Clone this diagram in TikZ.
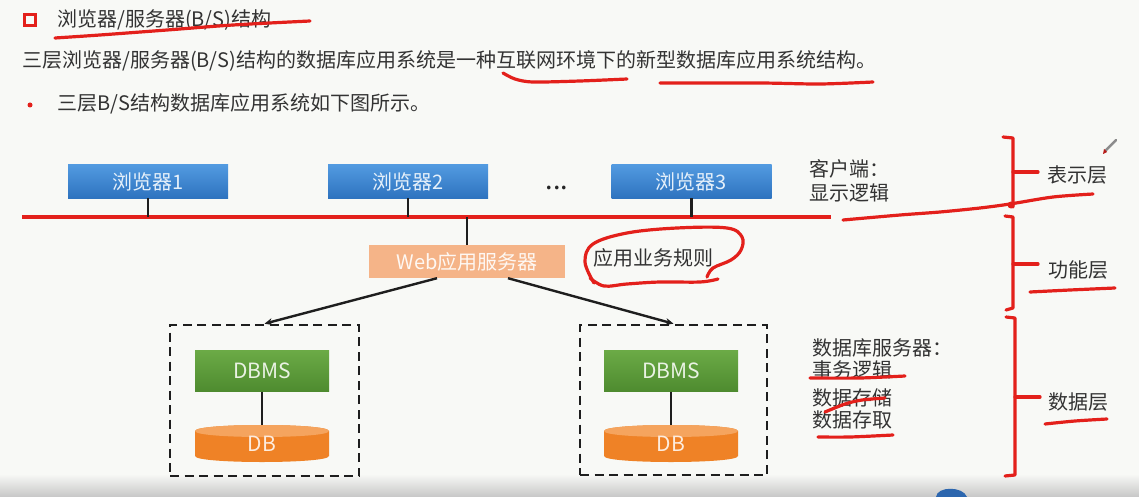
\documentclass[tikz,border=0pt]{standalone}
\usepackage{fontspec}
\setmainfont{Noto Sans CJK SC}
\usetikzlibrary{arrows.meta}

\definecolor{paper}{HTML}{F8F9F6}
\definecolor{ink}{HTML}{333333}
\definecolor{pen}{HTML}{E3201B}
\definecolor{bluetop}{HTML}{529AE0}
\definecolor{bluebot}{HTML}{2E73BF}
\definecolor{webfill}{HTML}{F5B488}
\definecolor{greentop}{HTML}{6BAA46}
\definecolor{greenbot}{HTML}{4E8B2F}
\definecolor{dbbody}{HTML}{EF8226}
\definecolor{dbtop}{HTML}{F5A45E}
\definecolor{wirecol}{HTML}{1E1E1E}
\definecolor{logo}{HTML}{2C66AE}

\tikzset{
  txt/.style={font=\fontsize{20}{24}\selectfont, text=ink, inner sep=0pt, anchor=west},
  boxlabel/.style={font=\fontsize{20}{24}\selectfont, inner sep=0pt},
  browser/.style={boxlabel, minimum width=160pt, minimum height=33pt,
    top color=bluetop, bottom color=bluebot, text=white!85!bluetop},
  websrv/.style={boxlabel, minimum width=196pt, minimum height=33pt,
    fill=webfill, text=white!90!webfill},
  dbms/.style={boxlabel, font=\fontsize{21}{24}\selectfont, minimum width=134pt, minimum height=41pt,
    top color=greentop, bottom color=greenbot, text=white!85!greentop},
  dbslot/.style={boxlabel, font=\fontsize{21}{24}\selectfont, minimum width=134pt, minimum height=37pt,
    text=white!85!dbbody},
  group/.style={draw=wirecol, line width=2.6pt, dash pattern=on 9pt off 5.5pt,
    inner sep=0pt},
  wire/.style={draw=wirecol, line width=2.4pt},
  feed/.style={wire, -{Stealth[length=8pt,width=7pt]}},
  bus/.style={draw=pen, line width=3.2pt},
  stroke/.style={draw=pen, line width=3.2pt, line cap=round, line join=round},
}

% cylinder body for a database, centred at x, spanning y 425..462
\newcommand{\dbdrum}[1]{%
  \fill[dbbody] (#1-67,431) -- (#1-67,456)
    .. controls (#1-67,464) and (#1+67,464) .. (#1+67,456) -- (#1+67,431)
    .. controls (#1+67,423) and (#1-67,423) .. cycle;
  \fill[dbtop] (#1-67,431)
    .. controls (#1-67,423) and (#1+67,423) .. (#1+67,431)
    .. controls (#1+67,439) and (#1-67,439) .. cycle;
}

\begin{document}
\begin{tikzpicture}[x=1pt,y=-1pt]
  \useasboundingbox (0,0) rectangle (1139,497);
  \fill[paper] (0,0) rectangle (1139,497);
  \shade[top color=paper, bottom color=black!22] (0,474) rectangle (1139,497);
  \fill[logo] (936,497) .. controls (937,486) and (963,486) .. (967,497) -- cycle;

  % heading and intro lines
  \node[draw=pen, line width=3pt, minimum size=11pt, inner sep=0pt] (sq) at (30,20) {};
  \node[txt] (title) at (57,20) {浏览器/服务器(B/S)结构};
  \node[txt] (intro) at (22,61) {三层浏览器/服务器(B/S)结构的数据库应用系统是一种互联网环境下的新型数据库应用系统结构。};
  \node[circle, fill=pen, minimum size=5pt, inner sep=0pt] (dot) at (30,105) {};
  \node[txt] (note) at (57,104) {三层B/S结构数据库应用系统如下图所示。};

  % browsers and the network line
  \node[browser] (b1) at (148,181.5) {浏览器1};
  \node[browser] (b2) at (408,181.5) {浏览器2};
  \node[browser] (b3) at (691.5,181.5) {浏览器3};
  \node[txt, anchor=center, font=\fontsize{27}{27}\selectfont, text=black!85] (dots) at (557,188) {...};
  \coordinate (busL) at (22,217);
  \coordinate (busR) at (831,217);
  \draw[bus] (busL) -- (busR);
  \foreach \b in {b1,b2,b3} \draw[wire] (\b.south) -- (\b.south |- busL);

  % application server
  \node[websrv] (web) at (467,261.5) {Web应用服务器};
  \draw[wire] (web.north) -- (web.north |- busL);

  % database servers
  \node[group, minimum width=189pt, minimum height=151pt] (gl) at (264.5,400.5) {};
  \node[group, minimum width=187pt, minimum height=150pt] (gr) at (673.5,400) {};
  \node[dbms] (dbms1) at (262,371) {DBMS};
  \node[dbms] (dbms2) at (671,371) {DBMS};
  \dbdrum{262}
  \dbdrum{671}
  \node[dbslot] (db1) at (262,443.5) {\raisebox{-5pt}{DB}};
  \node[dbslot] (db2) at (671,443.5) {\raisebox{-5pt}{DB}};
  \draw[wire] (dbms1) -- (db1);
  \draw[wire] (dbms2) -- (db2);
  \draw[feed] ([xshift=-30pt]web.south) -- (gl.north);
  \draw[feed] ([xshift=41pt]web.south) -- (gr.north);

  % side notes
  \node[txt] (client) at (809,169) {客户端：};
  \node[txt] (show) at (809,193) {显示逻辑};
  \node[txt] (rules) at (593,258) {应用业务规则};
  \node[txt] (dbsrv) at (812,348) {数据库服务器：};
  \node[txt] (trans) at (812,370) {事务逻辑};
  \node[txt] (store) at (812,398) {数据存储};
  \node[txt] (fetch) at (812,420) {数据存取};

  % layer labels
  \node[txt] (lay1) at (1047,175) {表示层};
  \node[txt] (lay2) at (1048,270) {功能层};
  \node[txt] (lay3) at (1048,402) {数据层};

  % layer brackets
  \draw[stroke] (1003,137) -- (1013,138) -- (1013,207);
  \draw[stroke] (1013,172) -- (1038,172);
  \draw[stroke] (1005,216) -- (1013,217) -- (1013,308) -- (1006,310);
  \draw[stroke] (1013,264) -- (1038,264);
  \draw[stroke] (1006,317) -- (1015,318) -- (1015,475) -- (1005,476);
  \draw[stroke] (1015,397) -- (1040,397);

  % pen marks
  \draw[stroke] plot[smooth] coordinates {(55,38) (100,35) (167,30) (233,25) (310,21)};
  \draw[stroke] plot[smooth] coordinates {(503,73) (515,79) (533,82) (580,81) (627,79)};
  \draw[stroke] plot[smooth] coordinates {(660,83) (760,83) (820,84) (873,82)};
  \draw[stroke] plot[smooth] coordinates {(843,220) (900,215) (940,212) (980,208) (1010,204) (1053,197) (1093,194)};
  \fill[pen] (1011,205) circle[radius=3.5pt];
  \draw[stroke] plot[smooth, tension=0.6] coordinates {(594,283) (585,262) (593,244) (627,233) (677,228) (727,228) (742,237) (741,250) (731,260) (713,268) (707,277)};
  \draw[stroke] plot[smooth, tension=0.6] coordinates {(718,279) (700,282) (660,282) (627,284) (604,286) (590,278)};
  \draw[stroke] plot[smooth] coordinates {(1030,292) (1070,290) (1115,288)};
  \draw[stroke] plot[smooth] coordinates {(1045,424) (1075,421) (1107,419)};
  \draw[stroke] plot[smooth] coordinates {(810,378) (860,378) (905,376)};
  \draw[stroke] plot[smooth] coordinates {(825,412) (845,404) (862,400) (885,398)};
  \draw[stroke] plot[smooth] coordinates {(818,437) (850,437) (893,435)};

  % pen cursor
  \draw[black!45, line width=2.5pt, line cap=round] (1105,151) -- (1116,140);
  \fill[pen!80!black] (1103,154) -- (1104,149) -- (1107,152) -- cycle;
\end{tikzpicture}
\end{document}
